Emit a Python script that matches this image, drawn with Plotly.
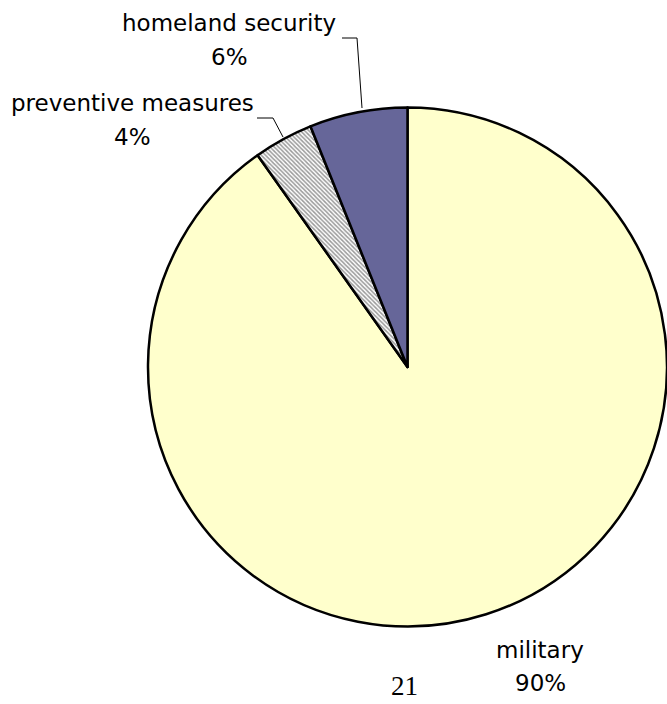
import plotly.graph_objects as go

# Data
categories = ["military", "preventive measures", "homeland security"]
values = [90.2, 3.7, 6.1]
pct_labels = ["90%", "4%", "6%"]
colors = ["#FFFFCC", "#FFFFFF", "#666699"]

W, H = 667, 704

fig = go.Figure()
fig.add_trace(go.Pie(
    labels=categories,
    values=values,
    sort=False,
    direction="clockwise",
    rotation=0,
    textinfo="none",
    hoverinfo="label+percent",
    showlegend=False,
    marker=dict(
        colors=colors,
        line=dict(color="#000000", width=2.5),
        pattern=dict(
            shape=["", "\\", ""],
            fgcolor="#9a9a9a",
            bgcolor=colors,
            size=3,
            solidity=0.5,
        ),
    ),
    domain=dict(x=[148 / W, 1.0], y=[1 - 627 / H, 1 - 107 / H]),
))

font = dict(family="DejaVu Sans", size=23, color="#000000")

def add_label(text, pct, cx, cy1, cy2):
    fig.add_annotation(x=cx / W, y=1 - cy1 / H, xref="paper", yref="paper",
                       text=text, showarrow=False, font=font,
                       xanchor="center", yanchor="middle")
    fig.add_annotation(x=cx / W, y=1 - cy2 / H, xref="paper", yref="paper",
                       text=pct, showarrow=False, font=font,
                       xanchor="center", yanchor="middle")

add_label(categories[2], pct_labels[2], 229, 23, 57)
add_label(categories[1], pct_labels[1], 132, 103, 137)
add_label(categories[0], pct_labels[0], 540, 650, 683)

# leader lines
line_style = dict(color="#000000", width=1)
fig.add_shape(type="path", xref="paper", yref="paper",
              path=f"M {342/W},{1-38/H} L {357/W},{1-38/H} L {362/W},{1-108/H}",
              line=line_style)
fig.add_shape(type="path", xref="paper", yref="paper",
              path=f"M {257/W},{1-118/H} L {273/W},{1-118/H} L {283/W},{1-137/H}",
              line=line_style)

# page number
fig.add_annotation(x=404 / W, y=1 - 686 / H, xref="paper", yref="paper",
                   text="21", showarrow=False,
                   font=dict(family="Liberation Serif", size=27, color="#000000"),
                   xanchor="center", yanchor="middle")

fig.update_layout(
    width=W, height=H,
    margin=dict(l=0, r=0, t=0, b=0),
    paper_bgcolor="#FFFFFF",
    plot_bgcolor="#FFFFFF",
)

fig.write_html("out.html")
